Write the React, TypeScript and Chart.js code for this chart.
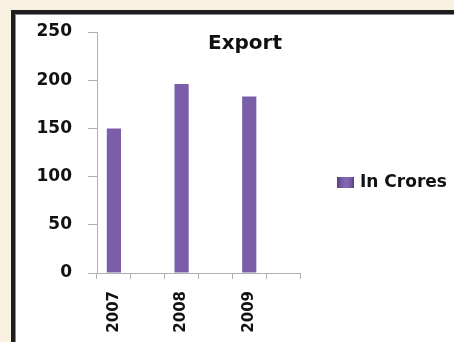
import React, { useEffect, useRef } from "react";
import { Chart, registerables } from "chart.js";

Chart.register(...registerables);

const categories = ["2007", "", "2008", "", "2009", ""];
const exportValues = [150, null, 196, null, 183, null];
const seriesLabel = "In Crores";
const chartTitle = "Export";
const yMin = 0;
const yMax = 250;
const yStep = 50;

const FONT = "'DejaVu Sans', Verdana, sans-serif";

function barGradient(ctx: CanvasRenderingContext2D, x0: number, x1: number) {
  const g = ctx.createLinearGradient(x0, 0, x1, 0);
  g.addColorStop(0, "#54407a");
  g.addColorStop(0.25, "#7659a6");
  g.addColorStop(0.55, "#856ab4");
  g.addColorStop(0.85, "#7256a0");
  g.addColorStop(1, "#513d78");
  return g;
}

const titlePlugin = {
  id: "customTitle",
  afterDraw(chart: any) {
    const ctx = chart.ctx as CanvasRenderingContext2D;
    ctx.save();
    ctx.font = `bold 20px ${FONT}`;
    ctx.fillStyle = "#111";
    ctx.textAlign = "center";
    ctx.textBaseline = "alphabetic";
    ctx.fillText(chartTitle, 245, 49);
    ctx.restore();
  },
};

const legendPlugin = {
  id: "customLegend",
  afterDraw(chart: any) {
    const ctx = chart.ctx as CanvasRenderingContext2D;
    const label = chart.data.datasets[0].label;
    ctx.save();
    const bx = 337, by = 177, bw = 17, bh = 11;
    ctx.fillStyle = barGradient(ctx, bx, bx + bw);
    ctx.fillRect(bx, by, bw, bh);
    ctx.font = `bold 17px ${FONT}`;
    ctx.fillStyle = "#111";
    ctx.textAlign = "left";
    ctx.textBaseline = "middle";
    ctx.fillText(label, 360, 183);
    ctx.restore();
  },
};

export default function App() {
  const ref = useRef<HTMLCanvasElement>(null);

  useEffect(() => {
    document.body.style.margin = "0";
    const canvas = ref.current!;
    const chart = new Chart(canvas, {
      type: "bar",
      data: {
        labels: categories,
        datasets: [
          {
            label: seriesLabel,
            data: exportValues as any,
            backgroundColor: (c: any) => {
              const el = c.element;
              const area = c.chart.chartArea;
              if (!area || !el || el.width == null) return "#7a5ea9";
              const x0 = el.x - el.width / 2;
              return barGradient(c.chart.ctx, x0, x0 + el.width);
            },
            borderWidth: 0,
            barPercentage: 0.42,
            categoryPercentage: 1,
          },
        ],
      },
      options: {
        responsive: false,
        animation: false,
        layout: { padding: { top: 32, left: 0, right: 154, bottom: 0 } },
        plugins: {
          legend: { display: false },
          title: { display: false },
          tooltip: { enabled: false },
        },
        scales: {
          x: {
            grid: {
              offset: true,
              drawOnChartArea: false,
              tickLength: 6,
              color: "#b0b0b0",
            },
            border: { color: "#b0b0b0", width: 1 },
            ticks: {
              minRotation: 90,
              maxRotation: 90,
              autoSkip: false,
              padding: 12,
              color: "#111",
              font: { family: FONT, size: 15, weight: "bold" },
            },
            afterFit(scale: any) {
              scale.height = 69;
            },
          },
          y: {
            min: yMin,
            max: yMax,
            grid: {
              drawOnChartArea: false,
              tickLength: 9,
              color: "#b0b0b0",
            },
            border: { color: "#b0b0b0", width: 1 },
            ticks: {
              stepSize: yStep,
              padding: 16,
              color: "#111",
              font: { family: FONT, size: 17, weight: "bold" },
            },
            afterFit(scale: any) {
              scale.width = 97;
            },
          },
        },
      },
      plugins: [titlePlugin, legendPlugin],
    });
    return () => chart.destroy();
  }, []);

  return (
    <div
      style={{
        position: "relative",
        width: 454,
        height: 342,
        overflow: "hidden",
        background: "#f8f0e1",
      }}
    >
      <div
        style={{
          position: "absolute",
          left: 11,
          top: 10,
          width: 470,
          height: 360,
          border: "4px solid #1d1d1d",
          boxShadow: "inset 1px 1px 0 #8a8a8a",
          background: "#ffffff",
        }}
      />
      <canvas
        ref={ref}
        width={454}
        height={342}
        style={{ position: "absolute", left: 0, top: 0 }}
      />
    </div>
  );
}
